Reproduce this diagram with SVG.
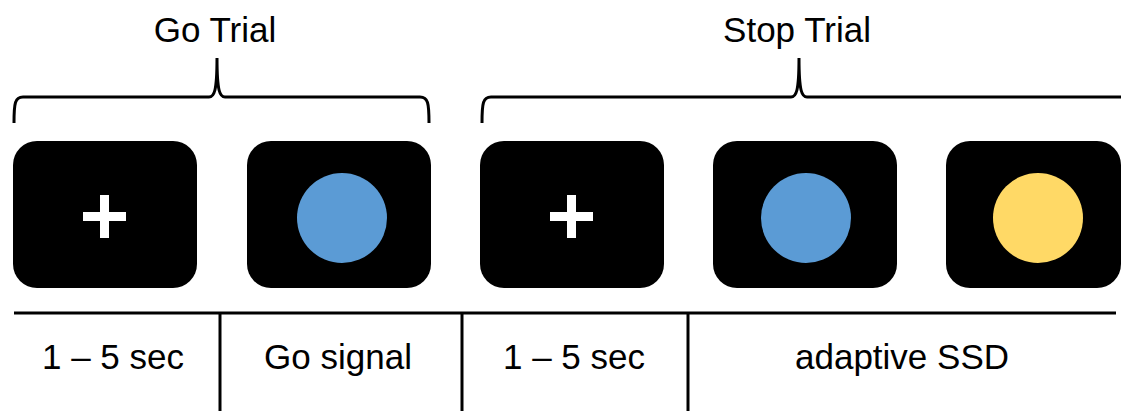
<svg xmlns="http://www.w3.org/2000/svg" width="1121" height="411" viewBox="0 0 1121 411">
<style>
.t{font-family:"Liberation Sans",Arial,sans-serif;font-size:35px;fill:#000;text-anchor:middle}
.box{fill:#000}
.ln{stroke:#000;stroke-width:3;fill:none}
.plus{fill:#fff}
.blue{fill:#5b9bd5}
.yel{fill:#ffd966}
</style>
<rect width="1121" height="411" fill="#fff"/>
<g id="headers">
<text class="t" x="215" y="42">Go Trial</text>
<text class="t" x="797" y="42">Stop Trial</text>
</g>
<g id="connectors">
<path class="ln" d="M14,123 C14,103 15,97 23,97 L209,97 C214,97 217,92 217,58 C217,92 220,97 225,97 L420,97 C428,97 429,103 429,123"/>
<path class="ln" d="M482,123 C482,103 483,97 491,97 L791,97 C796,97 799,92 799,58 C799,92 802,97 807,97 L1121,97"/>
<line class="ln" x1="14" y1="313" x2="1116" y2="313"/>
<line class="ln" x1="220" y1="313" x2="220" y2="411"/>
<line class="ln" x1="462" y1="313" x2="462" y2="411"/>
<line class="ln" x1="688" y1="313" x2="688" y2="411"/>
</g>
<g id="fix1">
<rect class="box" x="13" y="141" width="184" height="147" rx="24"/>
<rect class="plus" x="83" y="212" width="43" height="9"/>
<rect class="plus" x="100" y="195" width="9" height="43"/>
</g>
<g id="go1">
<rect class="box" x="247" y="141" width="184" height="147" rx="24"/>
<circle class="blue" cx="342" cy="218" r="45"/>
</g>
<g id="fix2">
<rect class="box" x="480" y="141" width="184" height="147" rx="24"/>
<rect class="plus" x="550" y="212" width="43" height="9"/>
<rect class="plus" x="567" y="195" width="9" height="43"/>
</g>
<g id="go2">
<rect class="box" x="713" y="141" width="184" height="147" rx="24"/>
<circle class="blue" cx="806" cy="218" r="45"/>
</g>
<g id="stop">
<rect class="box" x="946" y="141" width="175" height="147" rx="24"/>
<circle class="yel" cx="1038" cy="218" r="45"/>
</g>
<g id="labels">
<text class="t" x="113" y="369">1 – 5 sec</text>
<text class="t" x="338" y="369">Go signal</text>
<text class="t" x="574" y="369">1 – 5 sec</text>
<text class="t" x="902" y="369">adaptive SSD</text>
</g>
</svg>
